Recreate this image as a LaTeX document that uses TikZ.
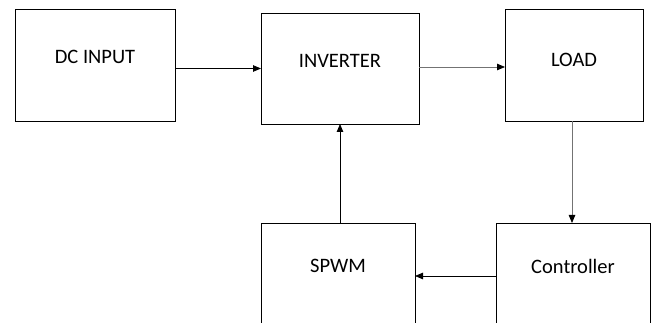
\documentclass[tikz,border=0pt]{standalone}
\usepackage{fontspec}
\setmainfont{Carlito}
\usetikzlibrary{positioning,arrows.meta}

\begin{document}
\begin{tikzpicture}[
  x=1pt, y=-1pt,
  node distance=86pt,
  block/.style={
    draw,
    line width=0.9pt,
    inner sep=0pt,
    outer sep=0pt
  },
  lbl/.style={
    font=\fontsize{20.5}{23}\selectfont,
    anchor=center
  },
  arrow/.style={-{Triangle[length=8pt,width=6.5pt,color=black]}, line width=0.8pt},
  greyarrow/.style={arrow, draw=black!55}
]
\clip (0,0) rectangle (654,323);

% --------------------
% Top row
% --------------------
\node[block, minimum width=160pt, minimum height=112pt,
  label={[lbl, yshift=-48pt]north:DC INPUT}] (dcin) at (95,65) {};
\node[block, minimum width=158pt, minimum height=111pt, right=of dcin, yshift=-3.5pt,
  label={[lbl, yshift=-48pt]north:INVERTER}] (inv) {};
\node[block, minimum width=138pt, minimum height=112pt, right=86pt of inv, yshift=3.5pt,
  label={[lbl, yshift=-51pt]north:LOAD}] (load) {};

% --------------------
% Bottom row
% --------------------
\node[block, minimum width=154pt, minimum height=130pt, below=99pt of inv, xshift=-2pt,
  label={[lbl, yshift=-43pt]north:SPWM}] (spwm) {};
\node[block, minimum width=154pt, minimum height=130pt, right=81pt of spwm,
  label={[lbl, yshift=-43pt]north:Controller}] (ctrl) {};

% --------------------
% Arrows
% --------------------
\draw[arrow] (dcin.east |- inv) -- (inv.west);
\draw[greyarrow] ([yshift=1.5pt]inv.east) -- ([yshift=1.5pt]inv.east -| load.west);
\draw[greyarrow] ([xshift=-2pt]load.south) -- ([xshift=-2pt]load.south |- ctrl.north);
\draw[arrow] ([yshift=-53pt]ctrl.north west) -- ([yshift=-53pt]spwm.north east);
\draw[arrow] (inv.south |- spwm.north) -- (inv.south);

\end{tikzpicture}
\end{document}
